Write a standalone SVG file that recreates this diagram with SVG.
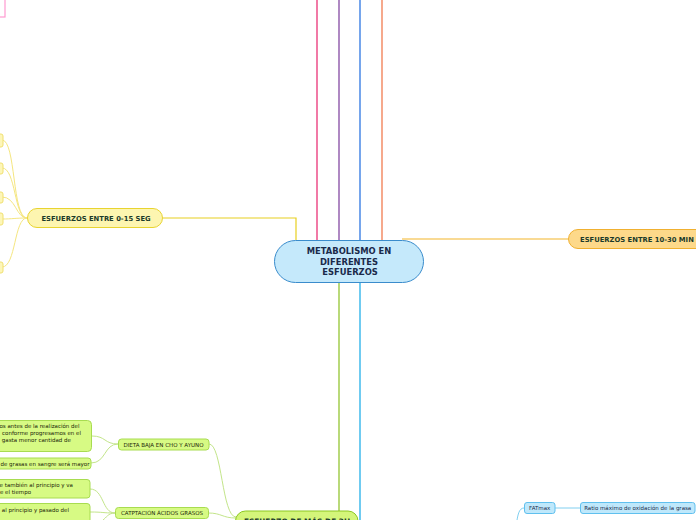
<svg xmlns="http://www.w3.org/2000/svg" width="696" height="520" viewBox="0 0 696 520">
<style>
.c{fill:none;stroke-width:1.2}
.t{font-family:"DejaVu Sans",Verdana,sans-serif}
.b{font-weight:bold}
.gn{fill:#d7fa84;stroke:#a8dc50;stroke-width:1}
.gt{font-size:5.5px;fill:#1c2608}
.ys{fill:#fdf6b8;stroke:#f0e070;stroke-width:1}
</style>
<rect width="696" height="520" fill="#ffffff"/>
<g id="connectors">
  <path class="c" d="M317 0V240" stroke="#e8206c"/>
  <path class="c" d="M339 0V240" stroke="#7a3a9a"/>
  <path class="c" d="M360 0V240" stroke="#1a6ae0"/>
  <path class="c" d="M382 0V240" stroke="#f07040"/>
  <path class="c" d="M339 283V511" stroke="#8ac020"/>
  <path class="c" d="M360 283V520" stroke="#10a8e8"/>
  <path class="c" d="M163 218H296V240" stroke="#e8d020"/>
  <path class="c" d="M402 239H568" stroke="#f3b52a"/>
  <g stroke="#f5e680" fill="none" stroke-width="1">
    <path d="M27 218C12 218 16 140 2 140"/>
    <path d="M27 218C14 218 16 168 2 168"/>
    <path d="M27 218C16 218 16 197 2 197"/>
    <path d="M27 218C16 218 12 219 2 219"/>
    <path d="M27 218C14 218 16 267 2 267"/>
  </g>
  <g stroke="#c3e58a" fill="none" stroke-width="1">
    <path d="M92 436C106 436 104 444 118 444"/>
    <path d="M91 463C106 463 104 444 118 444"/>
    <path d="M209 444C222 444 222 517 236 517"/>
    <path d="M90 489C104 489 102 513 115 513"/>
    <path d="M90 512C104 512 102 513 115 513"/>
    <path d="M115 513C108 513 106 518 103 520"/>
    <path d="M208 513C222 513 222 518 236 518"/>
  </g>
  <g stroke="#80cff0" fill="none" stroke-width="1">
    <path d="M555 508H580"/>
    <path d="M524 508C519 508 518 515 517 520"/>
  </g>
</g>
<g id="pink-node"><rect x="-10" y="-10" width="15" height="27" fill="#ffffff" stroke="#ff9ad0" stroke-width="1.2"/></g>
<g id="left-stubs">
  <rect class="ys" x="-20" y="134" width="23" height="13" rx="2"/>
  <rect class="ys" x="-20" y="163" width="23" height="11" rx="2"/>
  <rect class="ys" x="-20" y="192" width="23" height="11" rx="2"/>
  <rect class="ys" x="-20" y="213" width="23" height="12" rx="2"/>
  <rect class="ys" x="-20" y="262" width="23" height="11" rx="2"/>
</g>
<g id="central">
  <rect x="274.5" y="240.5" width="149" height="42" rx="21" fill="#c5e9fb" stroke="#3a8ccc" stroke-width="1"/>
  <g class="t b" font-size="8.4" fill="#1a2a4a" text-anchor="middle">
    <text x="349" y="254">METABOLISMO EN</text>
    <text x="349" y="265">DIFERENTES</text>
    <text x="350" y="275">ESFUERZOS</text>
  </g>
</g>
<g id="n-0-15">
  <rect x="27.5" y="208.5" width="135" height="19" rx="9.5" fill="#fdf5b0" stroke="#e8d430" stroke-width="1"/>
  <text class="t b" x="96" y="220.5" font-size="6.8" fill="#1a3a2a" text-anchor="middle">ESFUERZOS ENTRE 0-15 SEG</text>
</g>
<g id="n-10-30">
  <rect x="568.5" y="229.5" width="150" height="19" rx="9.5" fill="#fdd98a" stroke="#f0b030" stroke-width="1"/>
  <text class="t b" x="580" y="241.5" font-size="6.8" fill="#1a3a2a">ESFUERZOS ENTRE 10-30 MIN</text>
</g>
<g id="n-A">
  <rect class="gn" x="-20" y="420.5" width="111.5" height="31" rx="4"/>
  <text class="t gt" x="79.5" y="428" text-anchor="end">os antes de la realización del</text>
  <text class="t gt" x="81" y="435" text-anchor="end">conforme progresamos en el</text>
  <text class="t gt" x="71" y="442" text-anchor="end">gasta menor cantidad de</text>
</g>
<g id="n-B">
  <rect class="gn" x="-20" y="458" width="111" height="11" rx="3"/>
  <text class="t gt" x="0.5" y="465.5">de grasas en sangre será mayor</text>
</g>
<g id="n-dieta">
  <rect class="gn" x="118.5" y="439" width="90.5" height="11" rx="3"/>
  <text class="t gt" x="163.5" y="446.5" text-anchor="middle">DIETA BAJA EN CHO Y AYUNO</text>
</g>
<g id="n-C">
  <rect class="gn" x="-20" y="479.5" width="110" height="18.5" rx="3"/>
  <text class="t gt" x="73" y="486.5" text-anchor="end">e también al principio y va</text>
  <text class="t gt" x="31" y="494" text-anchor="end">e el tiempo</text>
</g>
<g id="n-D">
  <rect class="gn" x="-20" y="503.5" width="110" height="25" rx="3"/>
  <text class="t gt" x="69" y="511.5" text-anchor="end">al principio y pasado del</text>
</g>
<g id="n-capt">
  <rect class="gn" x="115.5" y="507.5" width="93" height="11" rx="3"/>
  <text class="t gt" x="162" y="515" text-anchor="middle">CATPTACIÓN ÁCIDOS GRASOS</text>
</g>
<g id="n-2h">
  <rect x="235.5" y="511" width="122.5" height="24" rx="10" fill="#d4f57a" stroke="#8cc820" stroke-width="1"/>
  <text class="t b" x="297" y="523.5" font-size="7.4" fill="#1a3a2a" text-anchor="middle">ESFUERZO DE MÁS DE 2H</text>
</g>
<g id="n-fatmax">
  <rect x="524.5" y="502.5" width="30.5" height="11" rx="2.5" fill="#bfe8fb" stroke="#60c0ee" stroke-width="1"/>
  <text class="t" x="539.7" y="510" font-size="5.5" fill="#1a2a4a" text-anchor="middle">FATmax</text>
</g>
<g id="n-ratio">
  <rect x="580.5" y="502.5" width="114.5" height="11" rx="2.5" fill="#bfe8fb" stroke="#60c0ee" stroke-width="1"/>
  <text class="t" x="637.7" y="510" font-size="5.5" fill="#1a2a4a" text-anchor="middle">Ratio máximo de oxidación de la grasa</text>
</g>
</svg>
